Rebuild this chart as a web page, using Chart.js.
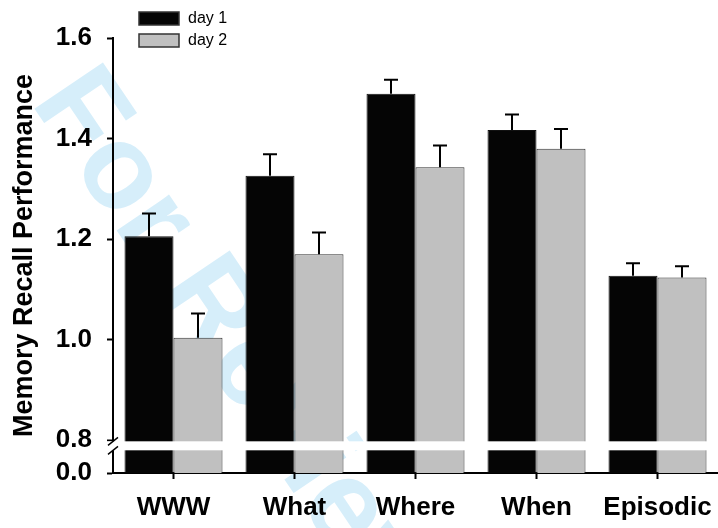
<!DOCTYPE html>
<html>
<head>
<meta charset="utf-8">
<script src="https://cdn.jsdelivr.net/npm/chart.js@4.4.1/dist/chart.umd.min.js"></script>
<style>
  html, body { margin: 0; padding: 0; background: #fff; }
  canvas { display: block; }
</style>
</head>
<body>
<canvas id="chart" width="718" height="528"></canvas>
<script>
// data
const categories = ['WWW', 'What', 'Where', 'When', 'Episodic'];
const seriesNames = ['day 1', 'day 2'];
const day1 = [1.206, 1.326, 1.489, 1.417, 1.127];
const day2 = [1.004, 1.170, 1.343, 1.380, 1.124];
const day1Err = [0.045, 0.043, 0.028, 0.031, 0.025];
const day2Err = [0.048, 0.043, 0.043, 0.039, 0.022];
// broken axis: the bottom stub stands for 0.0
const yTickValues = [0.735, 0.8, 1.0, 1.2, 1.4, 1.6];
const yTickLabels = ['0.0', '0.8', '1.0', '1.2', '1.4', '1.6'];

const FONT = '"Liberation Sans", Arial, Helvetica, sans-serif';

//watermark behind everything
const watermark = {
  id: 'watermark',
  beforeDraw(chart) {
    const ctx = chart.ctx;
    ctx.save();
    ctx.fillStyle = 'rgb(214,238,250)';
    ctx.font = 'bold 120px ' + FONT;
    ctx.translate(30, 102);
    ctx.rotate(56 * Math.PI / 180);
    ctx.textBaseline = 'alphabetic';
    ctx.fillText('For Review', 0, 0);
    ctx.restore();
  }
};

//error bars (upper half only) + axis break
const extras = {
  id: 'extras',
  afterDatasetsDraw(chart) {
    const ctx = chart.ctx;
    const y = chart.scales.y;
    const errs = [day1Err, day2Err];
    ctx.save();
    ctx.strokeStyle = '#000';
    ctx.lineWidth = 2;
    chart.data.datasets.forEach((ds, di) => {
      chart.getDatasetMeta(di).data.forEach((bar, i) => {
        const top = y.getPixelForValue(ds.data[i] + errs[di][i]);
        ctx.beginPath();
        ctx.moveTo(bar.x, bar.y);
        ctx.lineTo(bar.x, top);
        ctx.moveTo(bar.x - 7, top);
        ctx.lineTo(bar.x + 7, top);
        ctx.stroke();
      });
    });
    // white band for the break
    const area = chart.chartArea;
    const bTop = y.getPixelForValue(0.8) + 1;
    const bBot = bTop + 9;
    ctx.fillStyle = '#fff';
    ctx.fillRect(area.left - 8, bTop, area.right - area.left + 8, bBot - bTop);
    ctx.lineWidth = 1.5;
    [bTop, bBot].forEach(py => {
      ctx.beginPath();
      ctx.moveTo(area.left - 5, py + 4);
      ctx.lineTo(area.left + 5, py - 4);
      ctx.stroke();
    });
    ctx.restore();
  }
};

//legend drawn at top left
const legendBoxes = {
  id: 'legendBoxes',
  afterDraw(chart) {
    const ctx = chart.ctx;
    ctx.save();
    ctx.font = '16px ' + FONT;
    ctx.textBaseline = 'middle';
    chart.data.datasets.forEach((ds, i) => {
      const ty = 12 + i * 22;
      ctx.fillStyle = ds.backgroundColor;
      ctx.fillRect(139, ty, 40, 13);
      ctx.strokeStyle = '#333';
      ctx.lineWidth = 1.5;
      ctx.strokeRect(139, ty, 40, 13);
      ctx.fillStyle = '#000';
      ctx.fillText(ds.label, 188, ty + 7);
    });
    ctx.restore();
  }
};

new Chart(document.getElementById('chart'), {
  type: 'bar',
  data: {
    labels: categories,
    datasets: [{
      label: seriesNames[0],
      data: day1,
      backgroundColor: '#050505',
      borderColor: '#111',
      borderWidth: 1
    }, {
      label: seriesNames[1],
      data: day2,
      backgroundColor: '#c0c0c0',
      borderColor: '#333',
      borderWidth: 1
    }]
  },
  options: {
    responsive: false,
    animation: false,
    events: [],
    layout: { padding: { top: 38, right: 0, left: 0, bottom: 0 } },
    datasets: {
      bar: { categoryPercentage: 0.81, barPercentage: 1.0 }
    },
    scales: {
      x: {
        offset: true,
        afterFit(scale) {
          scale.height = 55;
          scale.paddingRight = 0;
          scale.paddingLeft = 0;
        },
        grid: {
          offset: false,
          drawOnChartArea: false,
          tickLength: 6,
          tickWidth: 2,
          tickColor: '#000'
        },
        border: { color: '#000', width: 2 },
        ticks: {
          color: '#000',
          padding: 13,
          font: { family: FONT, size: 26, weight: 'bold' }
        }
      },
      y: {
        min: yTickValues[0],
        max: yTickValues[yTickValues.length - 1],
        afterFit(scale) { scale.width = 113; },
        afterBuildTicks(scale) {
          scale.ticks = yTickValues.map(v => ({ value: v }));
        },
        grid: {
          drawOnChartArea: false,
          tickLength: 6,
          tickWidth: 2,
          tickColor: '#000'
        },
        border: { color: '#000', width: 2 },
        ticks: {
          color: '#000',
          padding: 15,
          font: { family: FONT, size: 26, weight: 'bold' },
          callback: (v, i) => yTickLabels[i]
        },
        title: {
          display: true,
          text: 'Memory Recall Performance',
          color: '#000',
          padding: { top: 8, bottom: 0 },
          font: { family: FONT, size: 27, weight: 'bold' }
        }
      }
    },
    plugins: {
      legend: { display: false },
      tooltip: { enabled: false }
    }
  },
  plugins: [watermark, extras, legendBoxes]
});
</script>
</body>
</html>
